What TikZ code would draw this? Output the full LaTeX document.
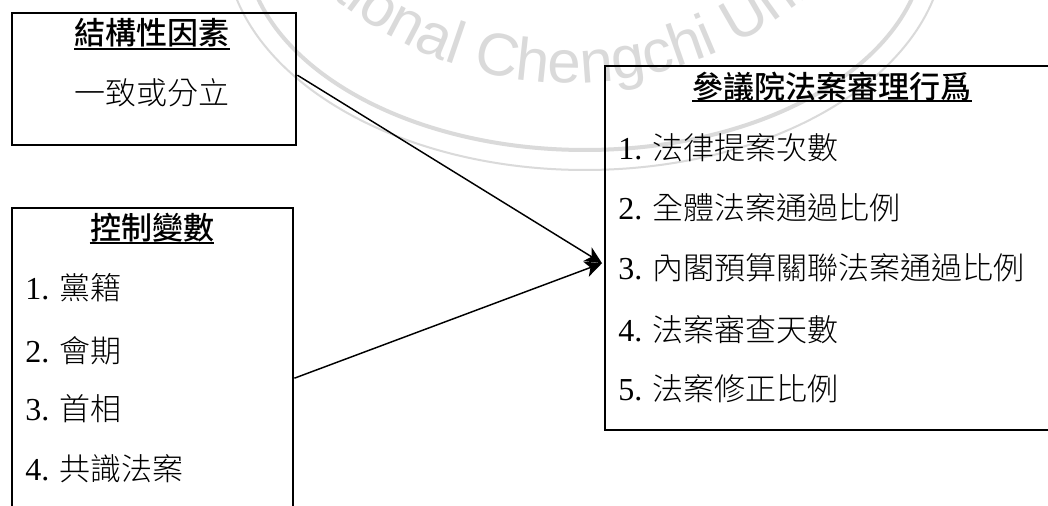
\documentclass[tikz,border=0pt]{standalone}
\usepackage{fontspec}
\setmainfont{Liberation Serif}
\IfFontExistsTF{Noto Sans CJK TC Medium}
  {\newfontfamily\cjk{Noto Sans CJK TC Medium}}
  {\newfontfamily\cjk{Noto Sans CJK TC}}
\IfFontExistsTF{Noto Sans CJK TC Light}
  {\newfontfamily\cjkl{Noto Sans CJK TC Light}}
  {\IfFontExistsTF{Noto Sans CJK TC DemiLight}
    {\newfontfamily\cjkl{Noto Sans CJK TC DemiLight}}
    {\newfontfamily\cjkl{Noto Sans CJK TC}}}
\newfontfamily\wmfont{Liberation Sans}
\usetikzlibrary{arrows.meta,decorations.text}
\definecolor{wmgray}{RGB}{218,218,218}
\begin{document}
\begin{tikzpicture}[x=0.75pt,y=0.75pt,
  box/.style={draw=black,line width=1.8pt,inner sep=0pt,anchor=north west},
  ttl/.style={inner sep=0pt,anchor=base,font=\cjk\fontsize{23.25}{28}\selectfont},
  item/.style={inner sep=0pt,anchor=base west},
  ul/.style={line width=1.35pt},
  conn/.style={line width=1.1pt,-{Stealth[length=12.75pt,width=12pt,inset=3.5pt]}},
  ring/.style={draw=wmgray}]
\useasboundingbox (0,0) rectangle (1048,506);
\fill[white] (0,0) rectangle (1048,506);
% watermark
\draw[ring,line width=3pt] (585,565) ellipse [x radius=340, y radius=209];
\draw[ring,line width=1.5pt] (585,565) ellipse [x radius=360, y radius=229];
\path[decorate,decoration={text along path,text align=left,
  text={|\wmfont\fontsize{45}{54}\selectfont\color{wmgray}|National Chengchi University}}]
  (570,793) ++(218:370) arc[start angle=218,end angle=352,radius=370];
% boxes
\node[box,minimum width=213pt,minimum height=99pt] (b1) at (11,494) {};
\node[box,minimum width=210.75pt,minimum height=255pt] (b2) at (11,299) {};
\node[box,minimum width=342pt,minimum height=273pt] (b3) at (604,441) {};
\newcommand\itm[2]{{\fontsize{24}{28}\selectfont #1 }{\cjkl\fontsize{23.25}{28}\selectfont #2}}
% box 1
\node[ttl] (t1) at (152,461) {結構性因素};
\draw[ul] ([yshift=-3pt]t1.base west) -- ([yshift=-3pt]t1.base east);
\node[ttl,font=\cjkl\fontsize{23.25}{28}\selectfont] (s1) at (152,401) {一致或分立};
% box 2
\node[ttl] (t2) at (152,266) {控制變數};
\draw[ul] ([yshift=-2.25pt]t2.base west) -- ([yshift=-2.25pt]t2.base east);
\node[item] (c1) at (25,206) {\itm{1.}{黨籍}};
\node[item] (c2) at (25,143) {\itm{2.}{會期}};
\node[item] (c3) at (25,85) {\itm{3.}{首相}};
\node[item] (c4) at (25,25) {\itm{4.}{共識法案}};
% box 3
\node[ttl] (t3) at (832,407) {參議院法案審理行爲};
\draw[ul] ([yshift=-1.5pt]t3.base west) -- ([yshift=-1.5pt]t3.base east);
\node[item] (d1) at (618,346) {\itm{1.}{法律提案次數}};
\node[item] (d2) at (618,286) {\itm{2.}{全體法案通過比例}};
\node[item] (d3) at (618,226) {\itm{3.}{內閣預算關聯法案通過比例}};
\node[item] (d4) at (618,164) {\itm{4.}{法案審查天數}};
\node[item] (d5) at (618,105) {\itm{5.}{法案修正比例}};
% connectors
\coordinate (tip) at ([xshift=-1.5pt,yshift=-11.25pt]b3.west);
\draw[conn] ([yshift=3pt]b1.east) -- (tip);
\draw[conn] (b2.east) -- (tip);
\end{tikzpicture}
\end{document}
